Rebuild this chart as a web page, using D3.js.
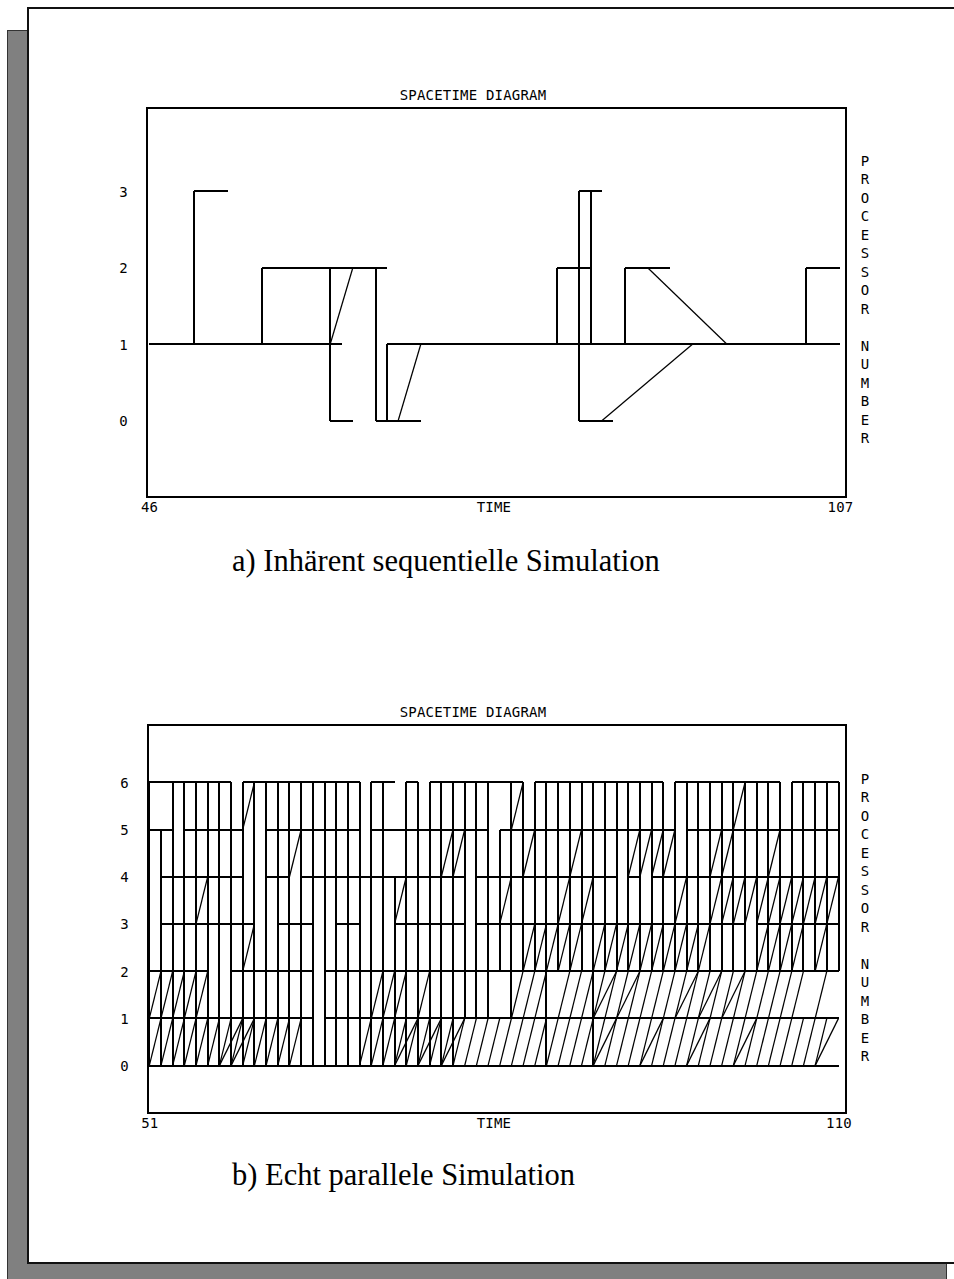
<!DOCTYPE html>
<html>
  <head>
    <meta charset="utf-8">
    <title>Spacetime diagrams</title>
    <script src="https://cdn.jsdelivr.net/npm/d3@7"></script>
    <style>
      body { margin: 0; background: #fff; }
      .mono { font-family: "DejaVu Sans Mono", monospace; font-size: 14px; letter-spacing: 0.2px; fill: #000; }
      .caption { font-family: "Liberation Serif", "Times New Roman", serif; font-size: 30.5px; fill: #000; }
      .frame { fill: none; stroke: #000; stroke-width: 2; shape-rendering: crispEdges; }
      .busy, .jump { stroke: #000; stroke-width: 2; shape-rendering: crispEdges; }
      .msg { stroke: #000; stroke-width: 1.25; }
    </style>
  </head>

  <body>
    <svg id="page" width="954" height="1279"></svg>

    <script>
      // a) inherently sequential run
      const timeA = [46, 107];
      const procA = [0, 1, 2, 3];
      // [processor, from, to]
      const busyA = [
        [1, 46, 63], [1, 67, 107], [3, 50, 53], [2, 56, 67], [0, 62, 64], [0, 66, 70],
        [2, 82, 85], [3, 84, 86], [0, 84, 87], [2, 88, 92], [2, 104, 107]
      ];
      // [time, from processor, to processor]
      const jumpsA = [
        [50, 1, 3], [56, 1, 2], [62, 0, 2], [66, 0, 2], [67, 0, 1], [82, 1, 2],
        [84, 0, 3], [85, 1, 3], [88, 1, 2], [104, 1, 2]
      ];
      // [send time, from, receive time, to]
      const msgsA = [
        [62, 1, 64, 2], [68, 0, 70, 1], [86, 0, 94, 1], [90, 2, 97, 1]
      ];

      // b) truly parallel run
      const timeB = [51, 110];
      const procB = [0, 1, 2, 3, 4, 5, 6];
      const busyB = [
        [6, 51, 58], [6, 59, 69], [6, 70, 72], [6, 73, 74], [6, 75, 83], [6, 84, 95], [6, 96, 105], [6, 106, 110],
        [5, 51, 53], [5, 54, 59], [5, 61, 69], [5, 70, 80], [5, 81, 96], [5, 97, 110],
        [4, 52, 59], [4, 61, 63], [4, 64, 78], [4, 79, 91], [4, 92, 93], [4, 94, 110],
        [3, 52, 60], [3, 62, 65], [3, 67, 69], [3, 72, 78], [3, 79, 102], [3, 103, 110],
        [2, 51, 56], [2, 58, 65], [2, 66, 110],
        [1, 51, 65], [1, 66, 110],
        [0, 51, 110]
      ];
      const jumpsB = [
        [51, 0, 6], [52, 0, 5], [53, 0, 6], [54, 0, 6], [55, 0, 6], [56, 0, 6], [57, 0, 6], [58, 0, 6],
        [59, 0, 6], [60, 0, 6], [61, 0, 6], [62, 0, 6], [63, 0, 6], [64, 0, 6], [65, 0, 6], [66, 0, 6],
        [67, 0, 6], [68, 0, 6], [69, 0, 6], [70, 0, 6], [71, 0, 6], [72, 0, 4], [73, 0, 6], [74, 0, 6],
        [75, 0, 6], [76, 0, 6], [77, 0, 6], [78, 1, 6], [79, 1, 6], [80, 1, 6], [81, 2, 5], [82, 1, 6],
        [83, 2, 6], [84, 2, 6], [85, 0, 6], [86, 2, 6], [87, 2, 6], [88, 2, 6], [89, 0, 6], [90, 2, 6],
        [91, 2, 6], [92, 2, 6], [93, 2, 6], [94, 2, 6], [95, 2, 6], [96, 2, 6], [97, 2, 6], [98, 2, 6],
        [99, 2, 6], [100, 2, 6], [101, 2, 6], [102, 2, 6], [103, 2, 6], [104, 2, 6], [105, 2, 6], [106, 2, 6],
        [107, 2, 6], [108, 2, 6], [109, 2, 6], [110, 2, 6]
      ];
      const msgsB = [
        // 0 -> 1
        [51, 0, 52, 1], [52, 0, 53, 1], [53, 0, 54, 1], [54, 0, 55, 1], [55, 0, 56, 1], [56, 0, 57, 1],
        [57, 0, 58, 1], [57, 0, 59, 1], [58, 0, 59, 1], [58, 0, 60, 1], [59, 0, 60, 1], [60, 0, 61, 1],
        [61, 0, 62, 1], [62, 0, 63, 1], [63, 0, 64, 1],
        [69, 0, 70, 1], [70, 0, 71, 1], [71, 0, 72, 1], [72, 0, 73, 1], [72, 0, 74, 1], [73, 0, 74, 1],
        [74, 0, 75, 1], [74, 0, 76, 1], [75, 0, 76, 1], [76, 0, 77, 1], [76, 0, 78, 1], [77, 0, 78, 1],
        [78, 0, 79, 1], [79, 0, 80, 1], [80, 0, 81, 1], [81, 0, 82, 1], [82, 0, 83, 1], [83, 0, 84, 1],
        [84, 0, 85, 1], [85, 0, 86, 1], [86, 0, 87, 1], [87, 0, 88, 1], [88, 0, 89, 1], [89, 0, 90, 1],
        [89, 0, 91, 1], [90, 0, 91, 1], [91, 0, 92, 1], [92, 0, 93, 1], [93, 0, 94, 1], [93, 0, 95, 1],
        [94, 0, 95, 1], [95, 0, 96, 1], [96, 0, 97, 1], [97, 0, 98, 1], [97, 0, 99, 1], [98, 0, 99, 1],
        [99, 0, 100, 1], [100, 0, 101, 1], [101, 0, 102, 1], [101, 0, 103, 1], [102, 0, 103, 1], [103, 0, 104, 1],
        [104, 0, 105, 1], [105, 0, 106, 1], [106, 0, 107, 1], [107, 0, 108, 1], [108, 0, 109, 1], [108, 0, 110, 1],
        // 1 -> 2
        [51, 1, 52, 2], [52, 1, 53, 2], [53, 1, 54, 2], [54, 1, 55, 2], [55, 1, 56, 2],
        [70, 1, 71, 2], [71, 1, 72, 2], [72, 1, 73, 2], [74, 1, 75, 2],
        [82, 1, 83, 2], [83, 1, 84, 2], [84, 1, 85, 2], [86, 1, 87, 2], [87, 1, 88, 2], [88, 1, 89, 2],
        [89, 1, 90, 2], [89, 1, 91, 2], [90, 1, 91, 2], [91, 1, 92, 2], [91, 1, 93, 2], [92, 1, 93, 2],
        [93, 1, 94, 2], [94, 1, 95, 2], [95, 1, 96, 2], [96, 1, 97, 2], [96, 1, 98, 2], [97, 1, 98, 2],
        [98, 1, 99, 2], [98, 1, 100, 2], [99, 1, 100, 2], [100, 1, 101, 2], [100, 1, 102, 2], [101, 1, 102, 2],
        [102, 1, 103, 2], [103, 1, 104, 2], [104, 1, 105, 2], [105, 1, 106, 2], [106, 1, 107, 2], [108, 1, 109, 2],
        // 2 -> 3
        [59, 2, 60, 3], [83, 2, 84, 3], [84, 2, 85, 3], [85, 2, 86, 3], [86, 2, 87, 3], [87, 2, 88, 3],
        [89, 2, 90, 3], [90, 2, 91, 3], [91, 2, 92, 3], [92, 2, 93, 3], [93, 2, 94, 3], [94, 2, 95, 3],
        [95, 2, 96, 3], [96, 2, 97, 3], [97, 2, 98, 3], [98, 2, 99, 3], [103, 2, 104, 3], [104, 2, 105, 3],
        [105, 2, 106, 3], [106, 2, 107, 3], [108, 2, 109, 3],
        // 3 -> 4
        [55, 3, 56, 4], [72, 3, 73, 4], [81, 3, 82, 4], [86, 3, 87, 4], [88, 3, 89, 4], [96, 3, 97, 4],
        [99, 3, 100, 4], [100, 3, 101, 4], [101, 3, 102, 4], [102, 3, 103, 4], [103, 3, 104, 4], [104, 3, 105, 4],
        [105, 3, 106, 4], [106, 3, 107, 4], [107, 3, 108, 4], [108, 3, 109, 4], [109, 3, 110, 4],
        // 4 -> 5
        [63, 4, 64, 5], [76, 4, 77, 5], [77, 4, 78, 5], [83, 4, 84, 5], [87, 4, 88, 5], [92, 4, 93, 5],
        [93, 4, 94, 5], [94, 4, 95, 5], [95, 4, 96, 5], [99, 4, 100, 5], [100, 4, 101, 5], [104, 4, 105, 5],
        // 5 -> 6
        [59, 5, 60, 6], [82, 5, 83, 6], [101, 5, 102, 6]
      ];

      const titleText = "SPACETIME DIAGRAM";
      const sideText = "PROCESSOR NUMBER";
      const captionA = "a) Inhärent sequentielle Simulation";
      const captionB = "b) Echt parallele Simulation";

      const svg = d3.select("#page");

      // page sheet with its shadow
      svg.append("rect")
        .attr("x", 7.5).attr("y", 30.5).attr("width", 939).attr("height", 1260)
        .attr("fill", "#808080").attr("stroke", "#333").attr("stroke-width", 1);
      svg.append("rect")
        .attr("x", 28).attr("y", 8).attr("width", 940).attr("height", 1255)
        .attr("fill", "#fff").attr("stroke", "#111").attr("stroke-width", 2);

      function drawDiagram(cfg) {
        const g = svg.append("g");
        const x = d3.scaleLinear().domain(cfg.time).range(cfg.xRange);
        const y = d3.scaleLinear().domain([0, d3.max(cfg.proc)]).range(cfg.yRange);

        g.append("text")
          .attr("class", "mono")
          .attr("x", 473)
          .attr("y", cfg.box.top - 8)
          .attr("text-anchor", "middle")
          .text(titleText);

        g.append("rect")
          .attr("class", "frame")
          .attr("x", cfg.box.left)
          .attr("y", cfg.box.top)
          .attr("width", cfg.box.right - cfg.box.left)
          .attr("height", cfg.box.bottom - cfg.box.top);

        // processor labels
        const yAxis = d3.axisLeft(y)
          .tickValues(cfg.proc)
          .tickSize(0)
          .tickPadding(19)
          .tickFormat(d3.format("d"));
        const yAxisGroup = g.append("g")
          .attr("transform", "translate(" + cfg.box.left + ",0)")
          .call(yAxis)
          .attr("font-family", null)
          .attr("font-size", null);
        yAxisGroup.select(".domain").remove();
        yAxisGroup.selectAll("text").attr("class", "mono").attr("dy", "0.36em");

        // time labels
        const xAxis = d3.axisBottom(x)
          .tickValues(cfg.time)
          .tickSize(0)
          .tickPadding(5.5)
          .tickFormat(d3.format("d"));
        const xAxisGroup = g.append("g")
          .attr("transform", "translate(0," + cfg.box.bottom + ")")
          .call(xAxis)
          .attr("font-family", null)
          .attr("font-size", null);
        xAxisGroup.select(".domain").remove();
        xAxisGroup.selectAll("text").attr("class", "mono");
        g.append("text")
          .attr("class", "mono")
          .attr("x", 494)
          .attr("y", cfg.box.bottom + 15)
          .attr("text-anchor", "middle")
          .text("TIME");

        // vertical side label
        g.selectAll(".side")
          .data(sideText.split(""))
          .enter().append("text")
            .attr("class", "mono side")
            .attr("x", 865)
            .attr("y", function(d, i) { return cfg.sideTop + i * 18.47; })
            .attr("text-anchor", "middle")
            .text(function(d) { return d; });

        g.selectAll(".busy")
          .data(cfg.busy)
          .enter().append("line")
            .attr("class", "busy")
            .attr("x1", function(d) { return x(d[1]); })
            .attr("x2", function(d) { return x(d[2]); })
            .attr("y1", function(d) { return y(d[0]); })
            .attr("y2", function(d) { return y(d[0]); });

        g.selectAll(".jump")
          .data(cfg.jumps)
          .enter().append("line")
            .attr("class", "jump")
            .attr("x1", function(d) { return x(d[0]); })
            .attr("x2", function(d) { return x(d[0]); })
            .attr("y1", function(d) { return y(d[1]); })
            .attr("y2", function(d) { return y(d[2]); });

        g.selectAll(".msg")
          .data(cfg.msgs)
          .enter().append("line")
            .attr("class", "msg")
            .attr("x1", function(d) { return x(d[0]); })
            .attr("y1", function(d) { return y(d[1]); })
            .attr("x2", function(d) { return x(d[2]); })
            .attr("y2", function(d) { return y(d[3]); });

        g.append("text")
          .attr("class", "caption")
          .attr("x", 232)
          .attr("y", cfg.captionY)
          .text(cfg.caption);
      }

      drawDiagram({
        time: timeA, proc: procA, busy: busyA, jumps: jumpsA, msgs: msgsA,
        xRange: [149, 840], yRange: [420.5, 191],
        box: { left: 147, right: 846, top: 108, bottom: 497 },
        sideTop: 166, caption: captionA, captionY: 571
      });

      drawDiagram({
        time: timeB, proc: procB, busy: busyB, jumps: jumpsB, msgs: msgsB,
        xRange: [149.3, 838.5], yRange: [1065.6, 782.3],
        box: { left: 148, right: 846, top: 725, bottom: 1113 },
        sideTop: 784, caption: captionB, captionY: 1185
      });
    </script>
  </body>
</html>
